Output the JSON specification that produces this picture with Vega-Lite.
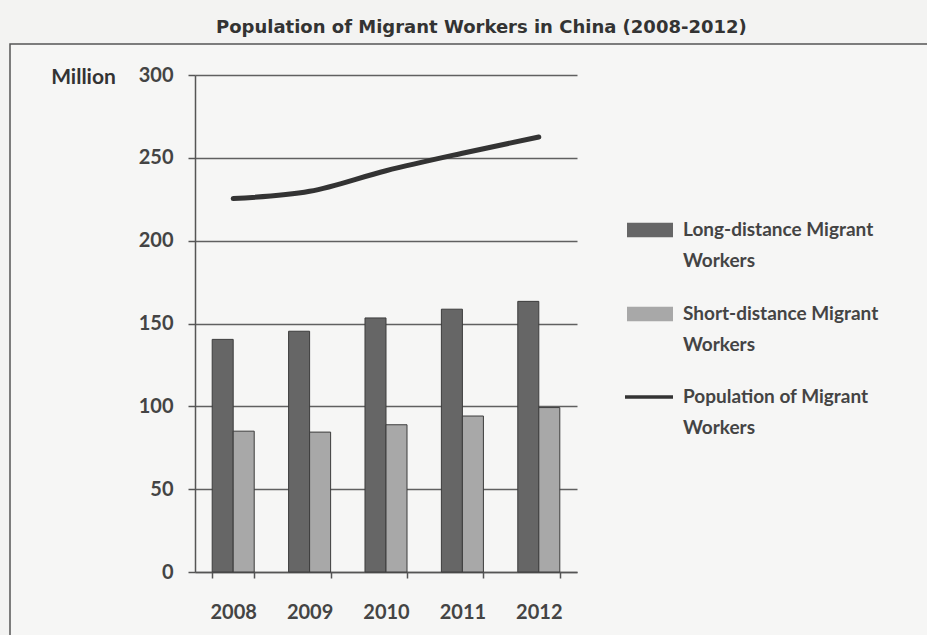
{
  "$schema": "https://vega.github.io/schema/vega-lite/v6.json",
  "width": 940,
  "height": 600,
  "autosize": {"type": "none"},
  "padding": {"left": 10, "top": 44, "right": 0, "bottom": 0},
  "background": "#f3f3f2",
  "title": {
    "text": "Population of Migrant Workers in China (2008-2012)",
    "font": "DejaVu Sans",
    "fontSize": 18,
    "fontWeight": "bold",
    "color": "#333333",
    "anchor": "start",
    "dx": 206,
    "offset": 7
  },
  "config": {
    "view": {"stroke": "#555555", "strokeWidth": 1.5, "fill": "#f6f6f5"},
    "font": "Lato",
    "style": {"guide-label": {"lineHeight": 31}}
  },
  "data": {
    "values": [
      {"year": "2008", "series": "Long-distance Migrant Workers", "value": 140.41},
      {"year": "2009", "series": "Long-distance Migrant Workers", "value": 145.33},
      {"year": "2010", "series": "Long-distance Migrant Workers", "value": 153.35},
      {"year": "2011", "series": "Long-distance Migrant Workers", "value": 158.63},
      {"year": "2012", "series": "Long-distance Migrant Workers", "value": 163.36},
      {"year": "2008", "series": "Short-distance Migrant Workers", "value": 85.01},
      {"year": "2009", "series": "Short-distance Migrant Workers", "value": 84.45},
      {"year": "2010", "series": "Short-distance Migrant Workers", "value": 88.88},
      {"year": "2011", "series": "Short-distance Migrant Workers", "value": 94.15},
      {"year": "2012", "series": "Short-distance Migrant Workers", "value": 99.25},
      {"year": "2008", "series": "Population of Migrant Workers", "value": 225.42},
      {"year": "2009", "series": "Population of Migrant Workers", "value": 229.78},
      {"year": "2010", "series": "Population of Migrant Workers", "value": 242.23},
      {"year": "2011", "series": "Population of Migrant Workers", "value": 252.78},
      {"year": "2012", "series": "Population of Migrant Workers", "value": 262.61}
    ]
  },
  "encoding": {
    "x": {
      "field": "year",
      "type": "nominal",
      "scale": {"range": [185, 567], "paddingInner": 0.45, "paddingOuter": 0.225},
      "axis": {
        "orient": "bottom",
        "offset": -72,
        "title": null,
        "grid": false,
        "labelAngle": 0,
        "domainColor": "#555555",
        "domainWidth": 1.5,
        "tickColor": "#555555",
        "tickWidth": 1.5,
        "tickSize": 6,
        "tickBand": "extent",
        "labelPadding": 24,
        "labelFont": "Lato",
        "labelFontSize": 20,
        "labelFontWeight": "bold",
        "labelColor": "#444444"
      }
    },
    "y": {
      "field": "value",
      "type": "quantitative",
      "scale": {"domain": [0, 300], "range": [528, 31], "nice": false},
      "axis": {
        "orient": "left",
        "offset": -185,
        "values": [0, 50, 100, 150, 200, 250, 300],
        "grid": true,
        "gridColor": "#606060",
        "gridWidth": 1.3,
        "domainColor": "#555555",
        "domainWidth": 1.5,
        "tickColor": "#555555",
        "tickWidth": 1.5,
        "tickSize": 7,
        "labelPadding": 15,
        "labelFont": "Lato",
        "labelFontSize": 20,
        "labelFontWeight": "bold",
        "labelColor": "#444444",
        "title": "Million",
        "titleAngle": 0,
        "titleX": -112,
        "titleY": 33,
        "titleAlign": "center",
        "titleBaseline": "middle",
        "titleFont": "Lato",
        "titleFontSize": 21,
        "titleFontWeight": "bold",
        "titleColor": "#333333"
      }
    }
  },
  "layer": [
    {
      "transform": [{"filter": "datum.series !== 'Population of Migrant Workers'"}],
      "mark": {"type": "bar", "stroke": "#3c3c3c", "strokeWidth": 1},
      "encoding": {
        "xOffset": {
          "field": "series",
          "type": "nominal",
          "sort": ["Long-distance Migrant Workers", "Short-distance Migrant Workers"]
        },
        "fill": {
          "field": "series",
          "type": "nominal",
          "scale": {
            "domain": ["Long-distance Migrant Workers", "Short-distance Migrant Workers"],
            "range": ["#666666", "#a8a8a8"]
          },
          "legend": {
            "orient": "none",
            "legendX": 617,
            "legendY": 163,
            "title": null,
            "labelExpr": "[slice(datum.label, 0, lastindexof(datum.label, ' ')), slice(datum.label, lastindexof(datum.label, ' ') + 1)]",
            "labelFont": "Lato",
            "labelFontSize": 19,
            "labelFontWeight": "bold",
            "labelColor": "#444444",
            "labelLimit": 320,
            "labelOffset": 10,
            "symbolType": "M-1,-0.31H1V0.31H-1Z",
            "symbolSize": 2116,
            "symbolStrokeWidth": 0,
            "rowPadding": 20
          }
        }
      }
    },
    {
      "transform": [{"filter": "datum.series === 'Population of Migrant Workers'"}],
      "mark": {"type": "line", "strokeWidth": 5, "interpolate": "monotone", "strokeCap": "round"},
      "encoding": {
        "stroke": {
          "field": "series",
          "type": "nominal",
          "scale": {"domain": ["Population of Migrant Workers"], "range": ["#333333"]},
          "legend": {
            "orient": "none",
            "legendX": 613,
            "legendY": 327,
            "title": null,
            "labelExpr": "[slice(datum.label, 0, lastindexof(datum.label, ' ')), slice(datum.label, lastindexof(datum.label, ' ') + 1)]",
            "labelFont": "Lato",
            "labelFontSize": 19,
            "labelFontWeight": "bold",
            "labelColor": "#444444",
            "labelLimit": 320,
            "labelOffset": 8,
            "symbolType": "M-1,0H1",
            "symbolSize": 2304,
            "symbolStrokeWidth": 3.5
          }
        }
      }
    }
  ]
}
